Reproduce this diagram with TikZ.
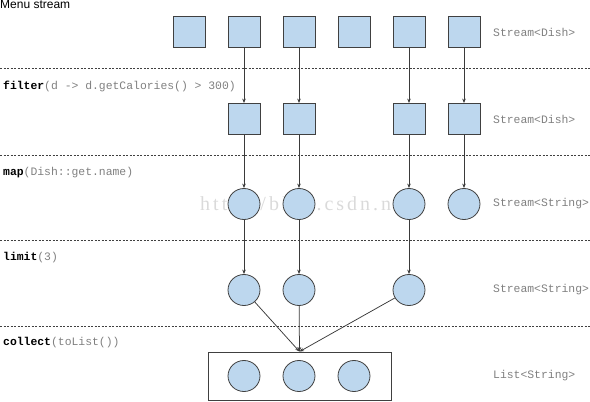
\documentclass[tikz,border=0pt]{standalone}
\usepackage{fontspec}
\setmainfont{Liberation Sans}
\newfontfamily\codefont{Liberation Mono}
\newfontfamily\markfont[LetterSpace=15]{Liberation Serif}
\usetikzlibrary{arrows.meta,shapes.geometric}
\definecolor{dishblue}{RGB}{189,215,238}
\definecolor{edgegray}{RGB}{64,64,64}
\definecolor{codegray}{RGB}{128,128,128}
\definecolor{markgray}{RGB}{218,218,218}
\tikzset{
dish/.style={draw=edgegray,line width=.8pt,fill=dishblue,minimum width=32pt,minimum height=31pt,inner sep=0pt},
dishname/.style={ellipse,draw=edgegray,line width=.8pt,fill=dishblue,minimum width=32pt,minimum height=31pt,inner sep=0pt},
flow/.style={draw=edgegray!90!black,line width=.75pt,-{Stealth[length=4.5pt,width=3.5pt]}},
sep/.style={edgegray,line width=.5pt,dash pattern=on 2pt off 1.5pt},
oplabel/.style={anchor=west,inner sep=0pt,text=codegray,font=\codefont\fontsize{11.4}{13}\selectfont},
typelabel/.style={anchor=west,inner sep=0pt,text=codegray,font=\codefont\fontsize{11.4}{13}\selectfont}
}
\begin{document}
\begin{tikzpicture}[x=1pt,y=-1pt]
\useasboundingbox (0,0) rectangle (590,402);
% watermark, behind the stream
\node[anchor=west,inner sep=0pt,text=markgray,font=\markfont\fontsize{20}{22}\selectfont] (mark) at (200,206) {http://blog.csdn.net/};
\node[anchor=west,inner sep=0pt,font=\fontsize{12}{14}\selectfont] (title) at (0,4) {Menu stream};
% stage separators
\foreach \y in {68,155,240,326}
\draw[sep] (0,\y) -- (590,\y);
% operations
\foreach \y/\op/\arg [count=\i] in {86/filter/{(d -> d.getCalories() > 300)},173/map/{(Dish::get.name)},258/limit/{(3)},343/collect/{(toList())}}
\node[oplabel] (op\i) at (3,\y) {\textcolor{black}{\bfseries\op}\arg};
% menu stream
\foreach \x [count=\i] in {189,244,299,354,409,464}
\node[dish] (d\i) at (\x,32) {};
% filter
\foreach \i/\x in {2/244,3/299,5/409,6/464}{
\node[dish] (f\i) at (\x,119) {};
\draw[flow] (d\i) -- (f\i);
}
% map
\foreach \i/\x in {2/244,3/299,5/409,6/464}{
\node[dishname] (m\i) at (\x,204) {};
\draw[flow] (f\i) -- (m\i);
}
% limit
\foreach \i/\x in {2/244,3/299,5/409}{
\node[dishname] (l\i) at (\x,290) {};
\draw[flow] (m\i) -- (l\i);
}
% collect
\node[draw=edgegray,line width=.8pt,minimum width=183pt,minimum height=48pt,inner sep=0pt] (list) at (299.5,376) {};
\foreach \x [count=\i] in {244,299,354}
\node[dishname] (c\i) at (\x,376) {};
\foreach \i in {2,3,5}
\draw[flow] (l\i) -- (list.north);
% types
\foreach \y/\t [count=\i] in {32/Stream<Dish>,119/Stream<Dish>,204/Stream<String>,290/Stream<String>,376/List<String>}
\node[typelabel] (t\i) at (493,\y) {\t};
\end{tikzpicture}
\end{document}
